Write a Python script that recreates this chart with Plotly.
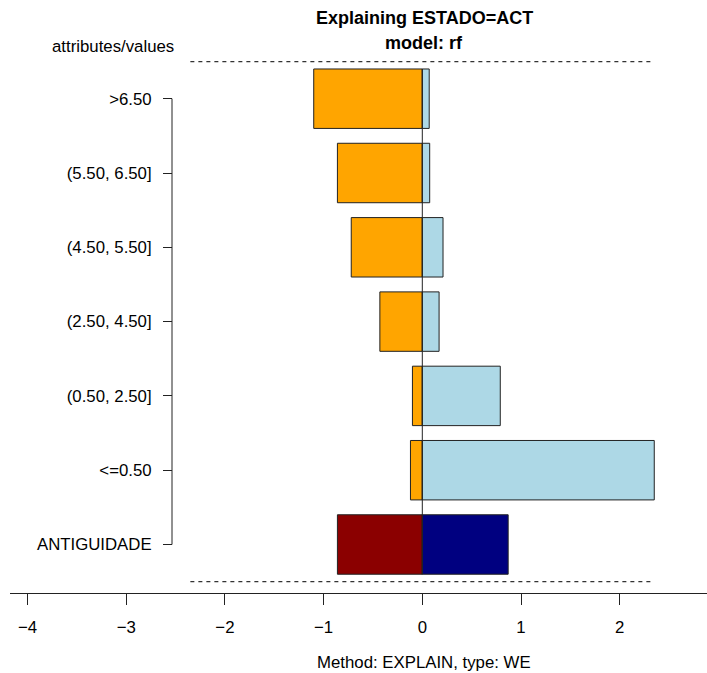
import plotly.graph_objects as go

# ---- data ----
categories = [">6.50", "(5.50, 6.50]", "(4.50, 5.50]", "(2.50, 4.50]",
              "(0.50, 2.50]", "<=0.50", "ANTIGUIDADE"]
neg_values = [-1.10, -0.86, -0.72, -0.43, -0.10, -0.12, -0.86]
pos_values = [0.07, 0.075, 0.21, 0.17, 0.79, 2.35, 0.87]
neg_colors = ["#FFA500"] * 6 + ["#8B0000"]
pos_colors = ["#ADD8E6"] * 6 + ["#000080"]
x_ticks = [-4, -3, -2, -1, 0, 1, 2]
x_tick_text = ["\u22124", "\u22123", "\u22122", "\u22121", "0", "1", "2"]
title_lines = ["Explaining ESTADO=ACT", "model: rf"]
x_title = "Method: EXPLAIN, type: WE"
y_title = "attributes/values"

W, H = 707, 673
L, R, T, B = 10, 0, 0, 80
pw, ph = W - L - R, H - T - B
x0px, unit = 422.3, 98.7          # pixel of x=0, pixels per unit
y0px, ystep = 98.7, 74.3          # pixel of first category, pixels per category

xr = [(L - x0px) / unit, (W - R - x0px) / unit]
yr = [(T + ph - y0px) / ystep, (T - y0px) / ystep]

idx = list(range(len(categories)))
FONT = "Liberation Sans, Arial, sans-serif"
FS = 16.8

fig = go.Figure()
fig.add_trace(go.Bar(y=idx, x=neg_values, orientation="h", width=0.8,
                     marker=dict(color=neg_colors, line=dict(color="#222", width=1)),
                     hoverinfo="skip"))
fig.add_trace(go.Bar(y=idx, x=pos_values, orientation="h", width=0.8,
                     marker=dict(color=pos_colors, line=dict(color="#222", width=1)),
                     hoverinfo="skip"))

m = max(max(abs(v) for v in neg_values), max(pos_values))
shapes = [
    dict(type="line", xref="x", yref="y", x0=-m, x1=m, y0=-0.5, y1=-0.5,
         line=dict(color="#333", width=1.3, dash="4px,4px")),
    dict(type="line", xref="x", yref="y", x0=-m, x1=m, y0=len(idx) - 0.5, y1=len(idx) - 0.5,
         line=dict(color="#333", width=1.3, dash="4px,4px")),
    dict(type="line", xref="x", yref="y", x0=0, x1=0, y0=-0.4, y1=len(idx) - 0.6,
         line=dict(color="#222", width=1), layer="above"),
    dict(type="line", xref="paper", yref="y", x0=(172 - L) / pw, x1=(172 - L) / pw,
         y0=0, y1=len(idx) - 1, line=dict(color="#222", width=1)),
]

ypos = lambda px: 1 - (px - T) / ph
annotations = [
    dict(text="<b>%s</b>" % title_lines[0], xref="x", yref="paper", x=0.02, y=ypos(18),
         showarrow=False, xanchor="center", yanchor="middle", font=dict(size=18, family=FONT, color="black")),
    dict(text="<b>%s</b>" % title_lines[1], xref="x", yref="paper", x=0.02, y=ypos(43),
         showarrow=False, xanchor="center", yanchor="middle", font=dict(size=18, family=FONT, color="black")),
    dict(text=y_title, xref="paper", yref="paper", x=(176 - L) / pw, y=ypos(47),
         showarrow=False, xanchor="right", yanchor="middle", font=dict(size=FS, family=FONT, color="black")),
    dict(text=x_title, xref="x", yref="paper", x=0.02, y=ypos(662),
         showarrow=False, xanchor="center", yanchor="middle", font=dict(size=FS, family=FONT, color="black")),
]

fig.update_layout(
    width=W, height=H, margin=dict(l=L, r=R, t=T, b=B, pad=0),
    barmode="overlay", showlegend=False,
    plot_bgcolor="white", paper_bgcolor="white",
    font=dict(family=FONT, size=FS, color="black"),
    shapes=shapes, annotations=annotations,
    xaxis=dict(range=xr, showgrid=False, zeroline=False, showline=True, linecolor="#222",
               linewidth=1, ticks="outside", ticklen=11, tickcolor="#222", tickwidth=1,
               tickvals=x_ticks, ticktext=x_tick_text, ticklabelstandoff=8,
               tickfont=dict(size=FS, family=FONT, color="black")),
    yaxis=dict(range=yr, showgrid=False, zeroline=False, showline=False,
               anchor="free", position=(172 - L) / pw, ticks="outside", ticklen=9,
               tickcolor="#222", tickwidth=1, tickvals=idx, ticktext=categories,
               ticklabelstandoff=8, tickfont=dict(size=FS, family=FONT, color="black")),
)

fig.write_html("out.html")
